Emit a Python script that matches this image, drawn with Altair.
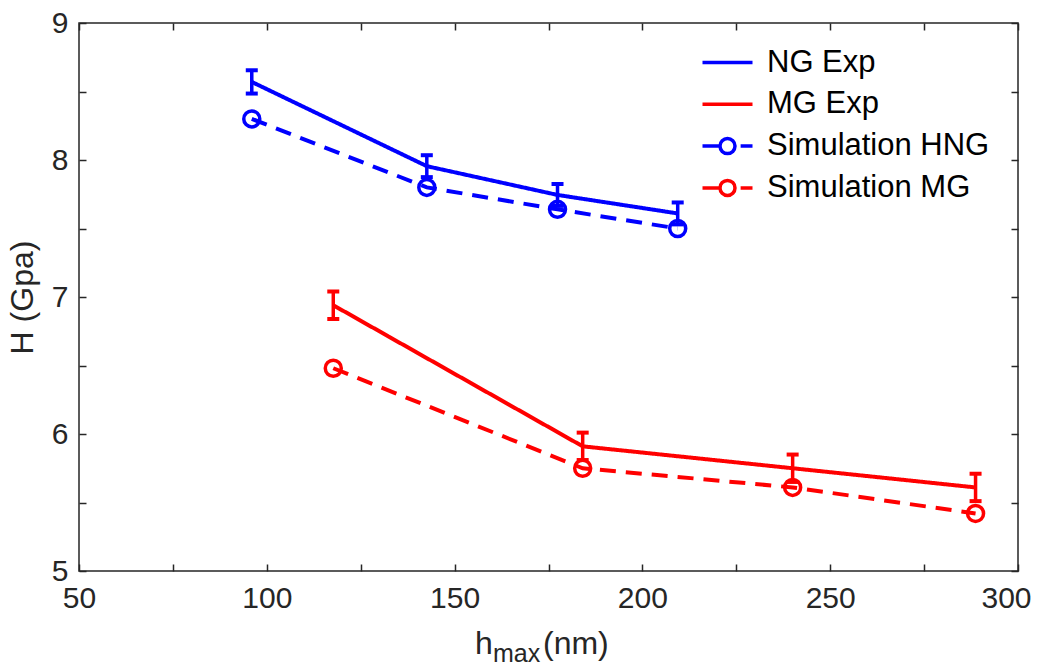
import altair as alt
import pandas as pd

series_names = ["NG Exp", "MG Exp", "Simulation HNG", "Simulation MG"]
series_colors = ["#0000FF", "#FF0000", "#0000FF", "#FF0000"]

ng_exp_h = [96.0, 142.6, 177.4, 209.4]
ng_exp_H = [8.57, 7.955, 7.745, 7.61]
ng_exp_err = [0.085, 0.08, 0.08, 0.08]

mg_exp_h = [117.7, 184.1, 240.0, 288.7]
mg_exp_H = [6.94, 5.91, 5.75, 5.61]
mg_exp_err = [0.1, 0.1, 0.1, 0.1]

sim_hng_h = [96.0, 142.6, 177.4, 209.4]
sim_hng_H = [8.30, 7.80, 7.64, 7.50]

sim_mg_h = [117.7, 184.1, 240.0, 288.7]
sim_mg_H = [6.48, 5.75, 5.61, 5.42]

x_ticks = [50, 75, 100, 125, 150, 175, 200, 225, 250, 275, 300]
y_ticks = [5, 5.5, 6, 6.5, 7, 7.5, 8, 8.5, 9]

FONT = "Liberation Sans"
AX = "#262626"

exp = pd.DataFrame({
    "grp": ["NG Exp"] * 4 + ["MG Exp"] * 4,
    "h": ng_exp_h + mg_exp_h,
    "H": ng_exp_H + mg_exp_H,
    "err": ng_exp_err + mg_exp_err,
})
exp["lo"] = exp["H"] - exp["err"]
exp["hi"] = exp["H"] + exp["err"]

sim = pd.DataFrame({
    "grp": ["Simulation HNG"] * 4 + ["Simulation MG"] * 4,
    "h": sim_hng_h + sim_mg_h,
    "H": sim_hng_H + sim_mg_H,
})
lines = pd.concat([exp[["grp", "h", "H"]], sim], ignore_index=True)

# data-layer scales use a reversed domain order so they stay separate from the legend's scales
data_domain = series_names[::-1]
data_colors = series_colors[::-1]
data_dashes = [[16, 10], [16, 10], [1, 0], [1, 0]]

xscale = alt.Scale(domain=[50, 300], nice=False, zero=False)
yscale = alt.Scale(domain=[5, 9], nice=False, zero=False)
stroke_scale = alt.Scale(domain=data_domain, range=data_colors)
dash_scale = alt.Scale(domain=data_domain, range=data_dashes)

common_axis = dict(domain=False, grid=False, ticks=True, tickSize=7, offset=-7,
                   tickColor=AX, tickWidth=1.5, labelFont=FONT, labelFontSize=30,
                   labelColor=AX, labelFlush=False, labelOverlap=False)

bottom_axis = alt.Axis(orient="bottom", values=x_ticks, title=None, labelPadding=12,
                       labelOffset={"condition": {"test": "datum.value == 300", "value": -12},
                                    "value": 0},
                       labelExpr="datum.value % 50 == 0 ? datum.label : ''", **common_axis)
left_axis = alt.Axis(orient="left", values=y_ticks, title="H (Gpa)", labelPadding=11,
                     titleFont=FONT, titleFontSize=32, titleFontWeight="normal",
                     titleColor=AX, titlePadding=12,
                     labelExpr="datum.value % 1 == 0 ? format(datum.value, 'd') : ''",
                     **common_axis)
top_axis = alt.Axis(orient="top", values=x_ticks, title=None, labels=False, **common_axis)
right_axis = alt.Axis(orient="right", values=y_ticks, title=None, labels=False, **common_axis)

line_layer = alt.Chart(lines).mark_line(strokeWidth=4).encode(
    x=alt.X("h:Q", scale=xscale, axis=bottom_axis),
    y=alt.Y("H:Q", scale=yscale, axis=left_axis),
    stroke=alt.Stroke("grp:N", scale=stroke_scale, legend=None),
    strokeDash=alt.StrokeDash("grp:N", scale=dash_scale, legend=None),
    detail="grp:N",
)

err_rule = alt.Chart(exp).mark_rule(strokeWidth=3.5).encode(
    x=alt.X("h:Q", scale=xscale, axis=top_axis),
    y=alt.Y("lo:Q", scale=yscale, axis=right_axis),
    y2="hi:Q",
    stroke=alt.Stroke("grp:N", scale=stroke_scale, legend=None),
)

cap_lo = alt.Chart(exp).mark_tick(orient="horizontal", size=12, thickness=4, opacity=1).encode(
    x=alt.X("h:Q", scale=xscale, axis=None),
    y=alt.Y("lo:Q", scale=yscale, axis=None),
    fill=alt.Fill("grp:N", scale=stroke_scale, legend=None),
)
cap_hi = alt.Chart(exp).mark_tick(orient="horizontal", size=12, thickness=4, opacity=1).encode(
    x=alt.X("h:Q", scale=xscale, axis=None),
    y=alt.Y("hi:Q", scale=yscale, axis=None),
    fill=alt.Fill("grp:N", scale=stroke_scale, legend=None),
)

pts = alt.Chart(sim).mark_point(shape="circle", filled=False, size=256, strokeWidth=3.5,
                                opacity=1).encode(
    x=alt.X("h:Q", scale=xscale, axis=None),
    y=alt.Y("H:Q", scale=yscale, axis=None),
    stroke=alt.Stroke("grp:N", scale=stroke_scale, legend=None),
)

exp_path = "M-2,0H2"
sim_path = "M-2,0H-0.6M0.6,0A0.6,0.6 0 1,1 -0.6,0A0.6,0.6 0 1,1 0.6,0M1.05,0H2"
shape_scale = alt.Scale(domain=series_names, range=[exp_path, exp_path, sim_path, sim_path])


def legend_def():
    return alt.Legend(orient="none", legendX=633, legendY=24, title=None,
                      labelFont=FONT, labelFontSize=31, labelColor="black",
                      symbolSize=625, symbolStrokeWidth=3.5, labelOffset=24,
                      symbolOpacity=1, rowPadding=9.8, padding=0, labelLimit=400)


legend_data = pd.DataFrame({"series": series_names})
legend_layer = alt.Chart(legend_data).mark_point(filled=False, strokeWidth=3.5, opacity=0).encode(
    color=alt.Color("series:N", scale=alt.Scale(domain=series_names, range=series_colors),
                    legend=legend_def()),
    shape=alt.Shape("series:N", scale=shape_scale, legend=legend_def()),
)

title_h = alt.Chart(pd.DataFrame({"t": ["h"]})).mark_text(
    align="left", baseline="alphabetic", font=FONT, fontSize=32, color=AX
).encode(x=alt.value(396), y=alt.value(631), text="t:N")
title_sub = alt.Chart(pd.DataFrame({"t": ["max"]})).mark_text(
    align="left", baseline="alphabetic", font=FONT, fontSize=25, color=AX
).encode(x=alt.value(414), y=alt.value(639), text="t:N")
title_nm = alt.Chart(pd.DataFrame({"t": ["(nm)"]})).mark_text(
    align="left", baseline="alphabetic", font=FONT, fontSize=32, color=AX
).encode(x=alt.value(464), y=alt.value(631), text="t:N")

chart = alt.layer(
    line_layer, err_rule, cap_lo, cap_hi, pts, legend_layer, title_h, title_sub, title_nm
).resolve_axis(x="independent", y="independent").properties(
    width=939, height=548,
    padding={"left": 71, "top": 15, "right": 14, "bottom": 92},
    autosize=alt.AutoSizeParams(type="none"),
).configure_view(stroke=AX, strokeWidth=1.5)

chart.save("out.html", embed_options={"renderer": "svg", "actions": False})
